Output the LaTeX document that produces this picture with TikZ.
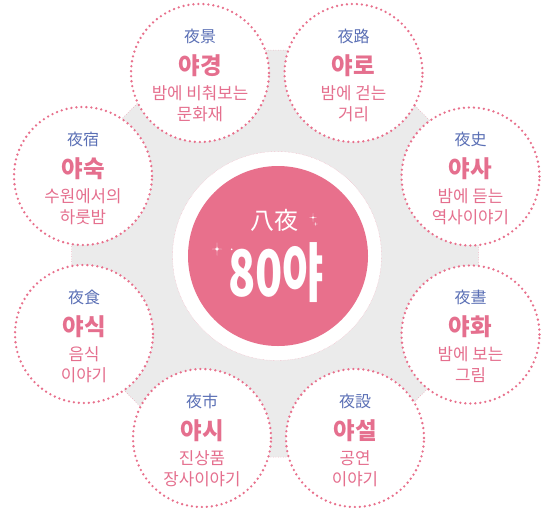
\documentclass[tikz,border=0pt]{standalone}
\usepackage{fontspec}
\setmainfont{Noto Sans CJK KR}
\definecolor{yapink}{HTML}{E8708C}
\definecolor{yatext}{HTML}{E56F8E}
\definecolor{yablue}{HTML}{5A6FB5}
\definecolor{yagray}{HTML}{EBEBEB}
\tikzset{
  yacircle/.style={circle, draw=yapink, fill=white, line width=2.6pt, dash pattern=on 0pt off 5pt, line cap=round, minimum size=138pt, inner sep=0pt},
  hanja/.style={anchor=base, inner sep=0pt, text=yablue, font=\fontsize{16}{16}\selectfont},
  yatitle/.style={anchor=base, inner sep=0pt, text=yatext, font=\fontsize{23.5}{23.5}\selectfont\bfseries},
  yasub/.style={anchor=base, inner sep=0pt, text=yatext, font=\fontsize{16.8}{16.8}\selectfont},
}
\begin{document}
\begin{tikzpicture}[x=1pt, y=-1pt]
\useasboundingbox (0,0) rectangle (545,507);
% grey octagon behind everything
\draw[fill=yagray, draw=yapink!80, dotted, line width=0.5pt] (190.7,50) -- (359.3,50) -- (478.5,169.2) -- (478.5,337.8) -- (359.3,457) -- (190.7,457) -- (71.5,337.8) -- (71.5,169.2) -- cycle;
% middle
\node (ring) [circle, fill=white, draw=yapink!60, densely dotted, line width=0.4pt, minimum size=209pt] at (277,256) {};
\node (middle) [circle, fill=yapink, minimum size=180pt] at (278,256) {};
\node (palya) [anchor=base, inner sep=0pt, text=white, font=\fontsize{24}{24}\selectfont] at (274,229) {八夜};
\node (eighty) [anchor=base, inner sep=0pt, text=white, font=\fontsize{64}{64}\selectfont\bfseries] at (276,296) {\scalebox{0.7}[1]{80야}};
\fill[white] (217,242.5) .. controls (217,249) .. (222,249) .. controls (217,249) .. (217,255.5) .. controls (217,249) .. (212,249) .. controls (217,249) .. cycle;
\fill[white] (231.7,249.3) circle (0.9);
\fill[white] (313,213) .. controls (313,217.5) .. (316.7,217.5) .. controls (313,217.5) .. (313,222) .. controls (313,217.5) .. (309.3,217.5) .. controls (313,217.5) .. cycle;
\fill[white] (315.7,222) .. controls (315.7,224) .. (317.7,224) .. controls (315.7,224) .. (315.7,226) .. controls (315.7,224) .. (313.7,224) .. controls (315.7,224) .. cycle;
% 夜景
\node (yagyeong) [yacircle] at (200,73) {};
\node (gyeonghj) [hanja] at ([yshift=31pt]yagyeong) {夜景};
\node (gyeongtt) [yatitle] at ([yshift=-1pt]yagyeong) {야경};
\node (gyeonga) [yasub] at ([yshift=-26pt]yagyeong) {밤에 비춰보는};
\node (gyeongb) [yasub] at ([yshift=-47pt]yagyeong) {문화재};
% 夜路
\node (yaro) [yacircle] at (353.5,73) {};
\node (rohj) [hanja] at ([yshift=31pt]yaro) {夜路};
\node (rott) [yatitle] at ([yshift=-1pt]yaro) {야로};
\node (roa) [yasub] at ([yshift=-26pt]yaro) {밤에 걷는};
\node (rob) [yasub] at ([yshift=-47pt]yaro) {거리};
% 夜史
\node (yasa) [yacircle] at (470.5,176.5) {};
\node (sahj) [hanja] at ([yshift=31pt]yasa) {夜史};
\node (satt) [yatitle] at ([yshift=-1pt]yasa) {야사};
\node (saa) [yasub] at ([yshift=-26pt]yasa) {밤에 듣는};
\node (sab) [yasub] at ([yshift=-47pt]yasa) {역사이야기};
% 夜晝
\node (yahwa) [yacircle] at (470.5,334.5) {};
\node (hwahj) [hanja] at ([yshift=31pt]yahwa) {夜晝};
\node (hwatt) [yatitle] at ([yshift=-1pt]yahwa) {야화};
\node (hwaa) [yasub] at ([yshift=-26pt]yahwa) {밤에 보는};
\node (hwab) [yasub] at ([yshift=-47pt]yahwa) {그림};
% 夜設
\node (yaseol) [yacircle] at (355,438) {};
\node (seolhj) [hanja] at ([yshift=31pt]yaseol) {夜設};
\node (seoltt) [yatitle] at ([yshift=-1pt]yaseol) {야설};
\node (seola) [yasub] at ([yshift=-26pt]yaseol) {공연};
\node (seolb) [yasub] at ([yshift=-47pt]yaseol) {이야기};
% 夜市
\node (yasi) [yacircle] at (202,438) {};
\node (sihj) [hanja] at ([yshift=31pt]yasi) {夜市};
\node (sitt) [yatitle] at ([yshift=-1pt]yasi) {야시};
\node (sia) [yasub] at ([yshift=-26pt]yasi) {진상품};
\node (sib) [yasub] at ([yshift=-47pt]yasi) {장사이야기};
% 夜食
\node (yasik) [yacircle] at (84,334) {};
\node (sikhj) [hanja] at ([yshift=31pt]yasik) {夜食};
\node (siktt) [yatitle] at ([yshift=-1pt]yasik) {야식};
\node (sika) [yasub] at ([yshift=-26pt]yasik) {음식};
\node (sikb) [yasub] at ([yshift=-47pt]yasik) {이야기};
% 夜宿
\node (yasuk) [yacircle] at (83,176) {};
\node (sukhj) [hanja] at ([yshift=31pt]yasuk) {夜宿};
\node (suktt) [yatitle] at ([yshift=-1pt]yasuk) {야숙};
\node (suka) [yasub] at ([yshift=-26pt]yasuk) {수원에서의};
\node (sukb) [yasub] at ([yshift=-47pt]yasuk) {하룻밤};
\end{tikzpicture}
\end{document}
